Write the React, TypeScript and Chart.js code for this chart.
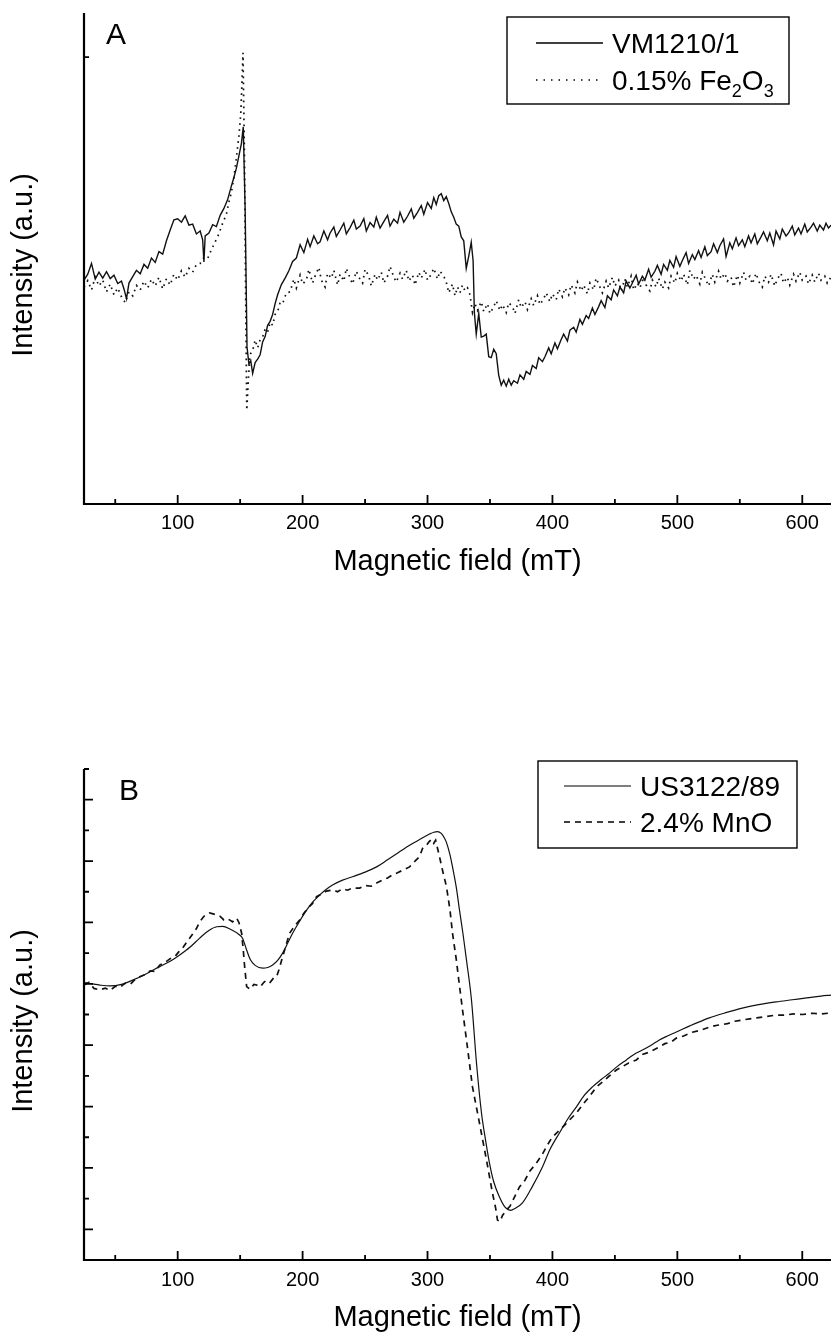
import React, { useEffect, useRef } from "react";
import { Chart, registerables } from "chart.js";
Chart.register(...registerables);

const FONT = "'Liberation Sans', Arial, Helvetica, sans-serif";

// ---------- Panel A : VM1210/1 vs 0.15% Fe2O3 ----------
const vm1210: [number, number][] = [
  [25, 45.6], [28, 46.8], [31, 49.0], [34, 45.8], [37, 47.2], [40, 46.0], [43, 47.3], [46, 45.9], [49, 46.6],
  [52, 44.9], [55, 45.4], [57, 43.8], [59, 41.8], [61, 45.0], [64, 46.3], [67, 47.6], [70, 46.9], [73, 48.8],
  [76, 48.0], [79, 50.1], [82, 49.2], [85, 51.4], [88, 50.9], [91, 53.6], [94, 55.8], [97, 57.9], [100, 58.1],
  [103, 57.4], [106, 58.7], [109, 56.8], [112, 57.0], [115, 55.0], [118, 55.6], [120, 53.8], [121, 49.3],
  [122, 54.6], [125, 55.2], [128, 56.9], [131, 56.5], [134, 58.8], [137, 60.2], [140, 62.0], [143, 64.8],
  [145, 66.5], [147, 68.4], [149, 70.9], [151, 73.4], [152.5, 76.8], [154, 60.0], [155.5, 32.0], [157, 28.5],
  [158.5, 29.2], [160, 26.6], [162, 28.8], [164, 29.5], [166, 30.4], [168, 33.0], [170, 34.1], [172, 36.4],
  [174, 37.2], [176, 38.6], [178, 40.8], [180, 42.6], [183, 44.7], [186, 46.0], [189, 47.5], [192, 49.4],
  [195, 50.1], [198, 52.8], [201, 51.2], [204, 53.9], [206, 52.4], [209, 54.6], [212, 53.0], [214, 53.4],
  [217, 55.6], [220, 53.8], [222, 55.2], [225, 56.4], [227, 54.5], [230, 55.8], [233, 57.2], [235, 55.0],
  [238, 56.3], [241, 57.8], [243, 56.0], [246, 56.6], [249, 58.1], [251, 55.6], [254, 57.3], [257, 56.4],
  [259, 58.4], [262, 56.2], [265, 57.5], [268, 58.8], [270, 56.6], [273, 58.0], [276, 57.2], [278, 59.4],
  [281, 57.4], [284, 58.6], [287, 60.1], [289, 58.2], [292, 59.4], [295, 60.8], [297, 59.0], [300, 61.4],
  [303, 60.2], [305, 62.4], [307, 61.0], [309, 62.8], [311, 63.2], [313, 61.8], [315, 62.6], [317, 61.2],
  [319, 59.5], [321, 58.4], [323, 57.0], [325, 56.6], [327, 54.4], [329, 53.6], [331, 48.0], [333, 50.5],
  [335, 53.3], [336.5, 49.5], [337.5, 39.0], [339, 34.6], [341, 38.8], [343, 34.0], [345, 34.2], [347, 34.6],
  [349, 30.0], [351, 29.8], [353, 31.5], [355, 30.6], [357, 26.2], [359, 24.2], [361, 25.2], [363, 24.0],
  [365, 25.4], [367, 24.2], [369, 25.1], [372, 24.6], [374, 26.3], [377, 25.4], [379, 27.0], [382, 26.4],
  [384, 28.2], [387, 27.6], [389, 29.8], [392, 29.0], [394, 30.0], [397, 31.8], [399, 30.6], [402, 32.8],
  [404, 31.6], [407, 33.5], [409, 34.6], [412, 33.2], [414, 35.4], [417, 36.0], [419, 35.0], [422, 37.6],
  [424, 36.6], [427, 38.4], [429, 37.8], [432, 39.9], [434, 38.6], [437, 40.2], [439, 41.4], [442, 40.0],
  [444, 42.4], [447, 41.6], [449, 43.6], [452, 42.4], [454, 44.2], [457, 43.0], [459, 45.4], [462, 44.0],
  [464, 45.0], [467, 46.6], [469, 44.8], [472, 46.4], [474, 45.6], [477, 47.8], [479, 46.2], [482, 47.4],
  [484, 48.6], [487, 46.8], [489, 48.8], [492, 47.6], [494, 49.6], [497, 48.2], [499, 50.4], [502, 48.4],
  [504, 49.6], [507, 51.2], [509, 49.0], [512, 50.8], [514, 49.8], [517, 51.6], [519, 50.2], [522, 52.4],
  [524, 50.6], [527, 51.4], [529, 53.0], [532, 51.2], [534, 52.6], [537, 54.0], [539, 50.4], [542, 53.2],
  [544, 52.0], [547, 54.2], [549, 52.6], [552, 53.8], [554, 52.4], [557, 54.6], [559, 53.2], [562, 55.0],
  [564, 53.0], [567, 54.4], [569, 55.4], [572, 53.6], [574, 55.2], [577, 52.8], [579, 55.6], [582, 54.0],
  [584, 56.0], [587, 54.6], [589, 55.2], [592, 56.6], [594, 54.8], [597, 56.2], [599, 55.0], [602, 57.0],
  [604, 55.4], [607, 56.4], [609, 57.2], [612, 55.6], [614, 56.8], [617, 55.8], [619, 57.2], [621, 56.2],
  [623, 56.8],
];

const fe2o3: [number, number][] = [
  [25, 44.2], [28, 45.5], [31, 43.6], [34, 46.2], [37, 44.4], [40, 45.6], [43, 43.2], [46, 44.8], [49, 42.6],
  [52, 44.0], [55, 42.2], [58, 41.0], [61, 43.2], [64, 42.4], [67, 44.5], [70, 43.6], [73, 45.4], [76, 44.0],
  [79, 45.8], [82, 44.4], [85, 46.2], [88, 43.8], [91, 45.9], [94, 44.6], [97, 46.8], [100, 45.6], [103, 47.5],
  [106, 46.2], [109, 48.0], [112, 47.2], [115, 48.8], [118, 49.0], [121, 50.2], [124, 50.0], [127, 51.8],
  [130, 53.4], [133, 55.0], [136, 57.2], [139, 59.0], [141, 61.5], [143, 63.5], [145, 66.5], [147, 70.5],
  [149, 75.0], [150.5, 79.5], [151.5, 86.0], [152.3, 91.9], [153.5, 70.0], [154.5, 40.0], [155.3, 19.1],
  [156.5, 25.0], [158, 30.5], [160, 31.2], [162, 33.4], [164, 31.8], [166, 33.5], [168, 34.0], [170, 35.6],
  [172, 35.0], [174, 37.0], [176, 36.4], [178, 38.6], [180, 39.2], [182, 41.0], [184, 40.8], [187, 43.0],
  [190, 43.2], [193, 45.8], [195, 44.0], [198, 46.6], [200, 44.8], [203, 45.6], [205, 47.8], [208, 45.0],
  [210, 46.4], [213, 48.2], [215, 45.6], [218, 44.2], [220, 47.0], [223, 46.0], [225, 47.6], [228, 44.6],
  [230, 46.8], [233, 45.4], [235, 48.0], [238, 46.0], [240, 44.8], [243, 47.4], [245, 46.2], [248, 45.0],
  [250, 47.8], [253, 46.4], [255, 44.4], [258, 46.8], [260, 45.6], [263, 47.2], [265, 45.0], [268, 46.4],
  [270, 48.4], [273, 46.2], [275, 45.2], [278, 47.0], [280, 45.8], [283, 47.6], [285, 45.4], [288, 46.6],
  [290, 44.6], [293, 47.2], [295, 46.0], [298, 47.8], [300, 45.6], [303, 46.8], [305, 48.0], [308, 45.8],
  [310, 47.4], [313, 46.4], [315, 45.2], [317, 43.0], [320, 44.8], [322, 42.4], [324, 44.2], [326, 43.0],
  [328, 44.6], [330, 43.4], [332, 44.0], [334, 42.6], [336, 39.0], [338, 40.8], [340, 39.4], [343, 41.2],
  [345, 39.2], [348, 40.8], [350, 38.8], [353, 40.2], [355, 41.4], [358, 39.4], [360, 40.6], [363, 39.0],
  [365, 41.0], [368, 40.2], [370, 38.8], [373, 41.6], [375, 40.0], [378, 41.2], [380, 39.6], [383, 41.8],
  [385, 40.4], [388, 42.4], [390, 40.6], [393, 41.8], [395, 43.0], [398, 41.2], [400, 42.8], [403, 41.6],
  [405, 43.8], [408, 42.2], [410, 44.0], [413, 42.6], [415, 44.6], [418, 43.0], [420, 45.2], [423, 43.4],
  [425, 44.6], [428, 42.8], [430, 45.0], [433, 43.6], [435, 46.0], [438, 44.2], [440, 43.0], [443, 45.4],
  [445, 44.0], [448, 46.2], [450, 44.4], [453, 45.6], [455, 43.4], [458, 45.8], [460, 44.2], [463, 46.4],
  [465, 43.6], [468, 45.0], [470, 44.0], [473, 46.2], [475, 44.6], [478, 43.4], [480, 45.6], [483, 44.2],
  [485, 46.0], [488, 43.8], [490, 45.2], [493, 44.0], [495, 46.4], [498, 45.0], [500, 47.0], [503, 45.4],
  [505, 46.8], [508, 44.6], [510, 47.6], [513, 45.8], [515, 46.6], [518, 44.8], [520, 47.2], [523, 45.6],
  [525, 44.4], [528, 46.8], [530, 45.2], [533, 47.4], [535, 45.8], [538, 47.0], [540, 45.4], [543, 46.2],
  [545, 44.2], [548, 46.6], [550, 45.0], [553, 47.2], [555, 45.6], [558, 46.4], [560, 44.8], [563, 47.0],
  [565, 45.4], [568, 44.2], [570, 46.4], [573, 45.2], [575, 46.8], [578, 44.4], [580, 45.8], [583, 47.0],
  [585, 45.0], [588, 46.2], [590, 44.6], [593, 46.8], [595, 45.4], [598, 47.2], [600, 45.6], [603, 46.4],
  [605, 44.8], [608, 46.6], [610, 45.2], [613, 47.0], [615, 45.6], [618, 46.4], [620, 45.0], [623, 46.2],
];

// ---------- Panel B : US3122/89 vs 2.4% MnO ----------
const us3122: [number, number][] = [
  [25, 8.04], [37.6, 7.96], [45.6, 7.93], [55, 7.98], [64, 8.12], [75, 8.33], [85.6, 8.56], [95, 8.76],
  [101.6, 8.94], [110, 9.2], [117.6, 9.49], [125, 9.74], [131.2, 9.86], [136, 9.87], [142, 9.78], [149.6, 9.59],
  [152, 9.48], [155.2, 9.10], [158, 8.80], [162, 8.60], [168, 8.51], [172, 8.53], [176, 8.61], [180, 8.76],
  [184, 9.00], [188, 9.32], [192, 9.65], [197, 10.0], [203.2, 10.40], [208, 10.66], [213.6, 10.89], [218, 11.05],
  [224, 11.22], [232, 11.38], [240, 11.49], [250, 11.64], [259.2, 11.81], [268, 12.04], [277.6, 12.30],
  [286, 12.52], [293.6, 12.70], [301.6, 12.88], [305, 12.94], [308, 12.96], [311, 12.90], [313.5, 12.75],
  [315.2, 12.60], [318, 12.20], [320, 11.81], [323, 11.15], [325.6, 10.40], [328.5, 9.6], [331.2, 8.77],
  [335.2, 7.47], [339.2, 5.42], [343.2, 3.79], [346.5, 2.9], [349.6, 2.16], [353, 1.55], [357.6, 1.05],
  [361, 0.78], [364, 0.65], [366.5, 0.62], [370, 0.68], [376, 0.86], [384, 1.4], [392, 2.03], [398, 2.6],
  [405.6, 3.14], [412, 3.58], [419.2, 3.99], [425, 4.34], [432, 4.64], [439, 4.88], [445.6, 5.09], [452, 5.31],
  [459.2, 5.52], [465, 5.69], [472, 5.84], [479, 6.0], [485.6, 6.17], [492, 6.30], [499.2, 6.43], [510, 6.63],
  [525.6, 6.89], [538, 7.05], [552, 7.21], [565, 7.32], [579, 7.41], [592, 7.48], [605, 7.55], [615, 7.60],
  [623, 7.63],
];

const mno: [number, number][] = [
  [25, 7.96], [29, 8.05], [33, 7.85], [37.6, 7.80], [42, 7.86], [46, 7.78], [50, 7.92], [53.6, 7.88], [58, 8.02],
  [62, 7.98], [66, 8.15], [69.6, 8.23], [74, 8.30], [78, 8.42], [82, 8.40], [85.6, 8.61], [90, 8.70], [94, 8.82],
  [98, 8.90], [101, 9.05], [104, 9.17], [108, 9.40], [112, 9.62], [115, 9.80], [117.6, 10.02], [121, 10.20],
  [125.6, 10.31], [129, 10.27], [133.6, 10.21], [137, 10.08], [140, 10.12], [144, 10.02], [147.2, 10.14],
  [149, 10.00], [151.2, 9.65], [152.5, 9.1], [153.6, 8.56], [155.2, 7.91], [158, 7.82], [161, 7.98],
  [163.2, 7.96], [166, 7.90], [169, 8.05], [171.2, 8.12], [174, 8.05], [177, 8.20], [179.2, 8.23], [181, 8.45],
  [184, 8.88], [187, 9.3], [189.6, 9.65], [193, 9.85], [197.6, 10.08], [201, 10.3], [205, 10.50], [208, 10.62],
  [211.2, 10.84], [215, 10.92], [219, 11.02], [224, 11.06], [228, 11.00], [232, 11.10], [236, 11.05],
  [240, 11.12], [245.6, 11.12], [250, 11.20], [255, 11.18], [260, 11.30], [264, 11.38], [268, 11.45],
  [272, 11.55], [276, 11.62], [280, 11.70], [285.6, 11.81], [290, 12.0], [293.6, 12.14], [296, 12.41],
  [299, 12.50], [301, 12.62], [303.2, 12.71], [305, 12.58], [306.5, 12.68], [309.6, 12.14], [312, 11.7],
  [315.2, 11.16], [318, 10.4], [320, 9.65], [323, 8.8], [325.6, 7.93], [328.5, 7.0], [331.2, 6.17], [336, 4.64],
  [341.6, 3.46], [347.2, 2.26], [352, 1.18], [354.5, 0.7], [356, 0.30], [358, 0.25], [360, 0.45], [363.2, 0.63],
  [366, 0.75], [369, 1.0], [373.6, 1.38], [378, 1.60], [382, 1.90], [387.2, 2.16], [392, 2.45], [396, 2.75],
  [400, 3.01], [405, 3.20], [410, 3.40], [415, 3.62], [419.2, 3.79], [425, 4.10], [430, 4.35], [435.2, 4.64],
  [440, 4.80], [445, 4.98], [451.2, 5.19], [456, 5.30], [461, 5.42], [467.2, 5.52], [472, 5.70], [478, 5.78],
  [485.6, 5.94], [490, 6.05], [495, 6.10], [499.2, 6.23], [505, 6.30], [512, 6.42], [518, 6.48], [525.6, 6.59],
  [532, 6.65], [540, 6.70], [546, 6.78], [552, 6.82], [558, 6.86], [565, 6.90], [572, 6.94], [579, 6.98],
  [586, 6.98], [593, 7.02], [600, 7.00], [608, 7.04], [615, 7.02], [623, 7.05],
];

// ---------- axes ----------
const fieldMin = 25;
const fieldMax = 623;
const fieldMajorTicks = [100, 200, 300, 400, 500, 600];
const fieldMinorTicks = [50, 150, 250, 350, 450, 550];
const aYMajorTicks: number[] = [];
const aYMinorTicks = [91];
const bYMajorTicks = [0, 2, 4, 6, 8, 10, 12, 14];
const bYMinorTicks = [1, 3, 5, 7, 9, 11, 13, 15];

const xTitle = "Magnetic field (mT)";
const yTitle = "Intensity (a.u.)";

type Part = { t: string; sub?: boolean };

const framePlugin = {
  id: "frame",
  afterDatasetsDraw(chart: any, _args: any, opts: any) {
    const { ctx, chartArea } = chart;
    const { left, right, top, bottom } = chartArea;
    const xs = chart.scales.x;
    const ys = chart.scales.y;
    ctx.save();
    ctx.strokeStyle = "#000";
    ctx.fillStyle = "#000";
    ctx.setLineDash([]);
    ctx.lineWidth = 2.2;
    ctx.beginPath();
    ctx.moveTo(left, top);
    ctx.lineTo(left, bottom);
    ctx.lineTo(right + 2, bottom);
    ctx.stroke();
    ctx.lineWidth = 1.8;
    ctx.beginPath();
    fieldMajorTicks.forEach((v) => {
      const p = xs.getPixelForValue(v);
      ctx.moveTo(p, bottom);
      ctx.lineTo(p, bottom - 9);
    });
    fieldMinorTicks.forEach((v) => {
      const p = xs.getPixelForValue(v);
      ctx.moveTo(p, bottom);
      ctx.lineTo(p, bottom - 5);
    });
    (opts.yMajor || []).forEach((v: number) => {
      const p = ys.getPixelForValue(v);
      ctx.moveTo(left, p);
      ctx.lineTo(left + 9, p);
    });
    (opts.yMinor || []).forEach((v: number) => {
      const p = ys.getPixelForValue(v);
      ctx.moveTo(left, p);
      ctx.lineTo(left + 5, p);
    });
    ctx.stroke();

    ctx.font = `30px ${FONT}`;
    ctx.textAlign = "left";
    ctx.textBaseline = "alphabetic";
    ctx.fillText(opts.letter, opts.letterX, opts.letterY);

    ctx.save();
    ctx.translate(opts.yTitleX, opts.yTitleY);
    ctx.rotate(-Math.PI / 2);
    ctx.font = `29px ${FONT}`;
    ctx.textAlign = "center";
    ctx.textBaseline = "middle";
    ctx.fillText(yTitle, 0, 0);
    ctx.restore();

    const lg = opts.legend;
    ctx.lineWidth = 1.4;
    ctx.strokeRect(lg.x, lg.y, lg.w, lg.h);
    lg.rows.forEach((row: Part[], i: number) => {
      const ds = chart.data.datasets[i];
      const by = lg.baselines[i];
      const ly = by - 10;
      ctx.save();
      ctx.lineWidth = ds.borderWidth;
      ctx.setLineDash(lg.dashes[i]);
      ctx.beginPath();
      ctx.moveTo(lg.sx0, ly);
      ctx.lineTo(lg.sx1, ly);
      ctx.stroke();
      ctx.restore();
      let tx = lg.tx;
      row.forEach((part) => {
        ctx.font = part.sub ? `18px ${FONT}` : `28px ${FONT}`;
        ctx.textAlign = "left";
        ctx.textBaseline = "alphabetic";
        ctx.fillText(part.t, tx, part.sub ? by + 7 : by);
        tx += ctx.measureText(part.t).width;
      });
    });
    ctx.restore();
  },
};

function makeChart(
  canvas: HTMLCanvasElement,
  sets: any[],
  yMin: number,
  yMax: number,
  padTop: number,
  xHeight: number,
  tickPad: number,
  titlePad: number,
  frame: any
) {
  return new Chart(canvas, {
    type: "line",
    data: { datasets: sets },
    options: {
      responsive: false,
      animation: false,
      devicePixelRatio: 1,
      layout: { padding: { top: padTop, right: 0, bottom: 0, left: 0 } },
      plugins: {
        legend: { display: false },
        tooltip: { enabled: false },
        frame,
      } as any,
      scales: {
        x: {
          type: "linear",
          min: fieldMin,
          max: fieldMax,
          afterFit: (s: any) => {
            s.height = xHeight;
          },
          afterBuildTicks: (s: any) => {
            s.ticks = fieldMajorTicks.map((v) => ({ value: v }));
          },
          grid: { display: false, drawTicks: false },
          border: { display: false },
          ticks: {
            color: "#000",
            font: { family: FONT, size: 20 },
            padding: tickPad,
            maxRotation: 0,
            autoSkip: false,
          },
          title: {
            display: true,
            text: xTitle,
            color: "#000",
            font: { family: FONT, size: 29 },
            padding: { top: 0, bottom: titlePad },
          },
        },
        y: {
          type: "linear",
          min: yMin,
          max: yMax,
          afterFit: (s: any) => {
            s.width = 84;
          },
          grid: { display: false, drawTicks: false },
          border: { display: false },
          ticks: { display: false },
        },
      },
    } as any,
    plugins: [framePlugin as any],
  });
}

const toXY = (arr: [number, number][]) => arr.map(([x, y]) => ({ x, y }));

export default function App() {
  const refA = useRef<HTMLCanvasElement>(null);
  const refB = useRef<HTMLCanvasElement>(null);

  useEffect(() => {
    const chartA = makeChart(
      refA.current!,
      [
        {
          label: "VM1210/1",
          data: toXY(vm1210),
          borderColor: "#111",
          borderWidth: 1.4,
          pointRadius: 0,
          tension: 0,
          fill: false,
        },
        {
          label: "0.15% Fe2O3",
          data: toXY(fe2o3),
          borderColor: "#111",
          borderWidth: 1.7,
          borderDash: [1.6, 4.4],
          pointRadius: 0,
          tension: 0,
          fill: false,
        },
      ],
      0,
      100,
      13,
      116,
      7,
      41,
      {
        letter: "A",
        letterX: 106,
        letterY: 44,
        yTitleX: 23.6,
        yTitleY: 265,
        yMajor: aYMajorTicks,
        yMinor: aYMinorTicks,
        legend: {
          x: 507,
          y: 17,
          w: 282,
          h: 87,
          sx0: 536,
          sx1: 603,
          tx: 612,
          baselines: [53, 90],
          dashes: [[], [1.5, 6]],
          rows: [
            [{ t: "VM1210/1" }],
            [{ t: "0.15% Fe" }, { t: "2", sub: true }, { t: "O" }, { t: "3", sub: true }],
          ],
        },
      }
    );

    const chartB = makeChart(
      refB.current!,
      [
        {
          label: "US3122/89",
          data: toXY(us3122),
          borderColor: "#111",
          borderWidth: 1.2,
          pointRadius: 0,
          cubicInterpolationMode: "monotone",
          fill: false,
        },
        {
          label: "2.4% MnO",
          data: toXY(mno),
          borderColor: "#111",
          borderWidth: 1.7,
          borderDash: [6, 5],
          pointRadius: 0,
          tension: 0,
          fill: false,
        },
      ],
      -1,
      15,
      149,
      75,
      8,
      0,
      {
        letter: "B",
        letterX: 119,
        letterY: 180,
        yTitleX: 23.6,
        yTitleY: 401,
        yMajor: bYMajorTicks,
        yMinor: bYMinorTicks,
        legend: {
          x: 538,
          y: 141,
          w: 259,
          h: 87,
          sx0: 564,
          sx1: 631,
          tx: 640,
          baselines: [176, 212],
          dashes: [[], [6, 5]],
          rows: [[{ t: "US3122/89" }], [{ t: "2.4% MnO" }]],
        },
      }
    );

    return () => {
      chartA.destroy();
      chartB.destroy();
    };
  }, []);

  return (
    <div style={{ position: "absolute", left: 0, top: 0, width: 831, height: 1335, background: "#fff", overflow: "hidden" }}>
      <canvas ref={refA} width={831} height={620} style={{ position: "absolute", left: 0, top: 0, display: "block" }} />
      <canvas ref={refB} width={831} height={715} style={{ position: "absolute", left: 0, top: 620, display: "block" }} />
    </div>
  );
}
